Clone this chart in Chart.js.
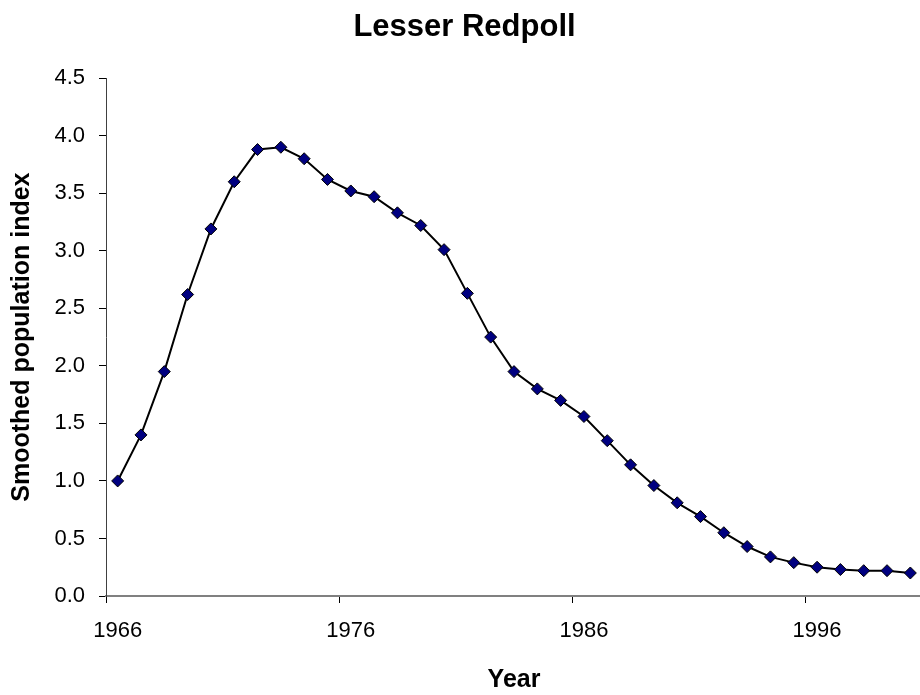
<!DOCTYPE html>
<html>
<head>
<meta charset="utf-8">
<title>Lesser Redpoll</title>
<script src="https://cdn.jsdelivr.net/npm/chart.js@4"></script>
<style>
  html, body { margin: 0; padding: 0; background: #fff; overflow: hidden; }
  #wrap { width: 929px; height: 695px; }
</style>
</head>
<body>
<div id="wrap"><canvas id="chart" width="929" height="695"></canvas></div>
<script>
// years on the category axis
const years = [
  1966, 1967, 1968, 1969, 1970, 1971, 1972, 1973, 1974, 1975,
  1976, 1977, 1978, 1979, 1980, 1981, 1982, 1983, 1984, 1985,
  1986, 1987, 1988, 1989, 1990, 1991, 1992, 1993, 1994, 1995,
  1996, 1997, 1998, 1999, 2000
];
// smoothed population index
const indexValues = [
  1.00, 1.40, 1.95, 2.62, 3.19, 3.60, 3.88, 3.90, 3.80, 3.62,
  3.52, 3.47, 3.33, 3.22, 3.01, 2.63, 2.25, 1.95, 1.80, 1.70,
  1.56, 1.35, 1.14, 0.96, 0.81, 0.69, 0.55, 0.43, 0.34, 0.29,
  0.25, 0.23, 0.22, 0.22, 0.20
];
const yMin = 0, yMax = 4.5, yStep = 0.5;
const labelEvery = 10;

const font = 'Arial, "Liberation Sans", sans-serif';

new Chart(document.getElementById('chart'), {
  type: 'line',
  data: {
    labels: years.map(String),
    datasets: [{
      label: 'Lesser Redpoll',
      data: indexValues,
      borderColor: '#000',
      borderWidth: 2,
      tension: 0,
      pointStyle: 'rectRot',
      pointRadius: 6,
      pointBackgroundColor: '#000080',
      pointBorderColor: '#000',
      pointBorderWidth: 1
    }]
  },
  options: {
    responsive: false,
    animation: false,
    layout: { padding: 0 },
    plugins: {
      legend: { display: false },
      tooltip: { enabled: false },
      title: {
        display: true,
        text: 'Lesser Redpoll',
        color: '#000',
        font: { family: font, size: 31, weight: 'bold', lineHeight: 1.2 },
        padding: { top: 9, bottom: 32 }
      }
    },
    scales: {
      x: {
        type: 'category',
        offset: true,
        afterFit: s => { s.height = 99; },
        border: { color: '#808080', width: 2 },
        grid: {
          offset: true,
          drawOnChartArea: false,
          tickLength: 7,
          color: c => (c.index % labelEvery === 0 ? '#000' : 'transparent')
        },
        ticks: {
          autoSkip: false,
          maxRotation: 0,
          padding: 15,
          color: '#000',
          font: { family: font, size: 22 },
          callback: (v, i) => (i % labelEvery === 0 ? years[i] : '')
        },
        title: {
          display: true,
          text: 'Year',
          color: '#000',
          font: { family: font, size: 25, weight: 'bold', lineHeight: 1.2 },
          padding: { top: 0, bottom: 0 }
        }
      },
      y: {
        min: yMin,
        max: yMax,
        afterFit: s => { s.width = 106; },
        border: { color: '#404040', width: 1 },
        grid: { drawOnChartArea: false, tickLength: 7, color: '#000' },
        ticks: {
          stepSize: yStep,
          padding: 14,
          color: '#000',
          font: { family: font, size: 22 },
          callback: v => v.toFixed(1)
        },
        title: {
          display: true,
          text: 'Smoothed population index',
          color: '#000',
          font: { family: font, size: 25, weight: 'bold', lineHeight: 1.2 },
          padding: { top: 7, bottom: 0 }
        }
      }
    }
  }
});
</script>
</body>
</html>
